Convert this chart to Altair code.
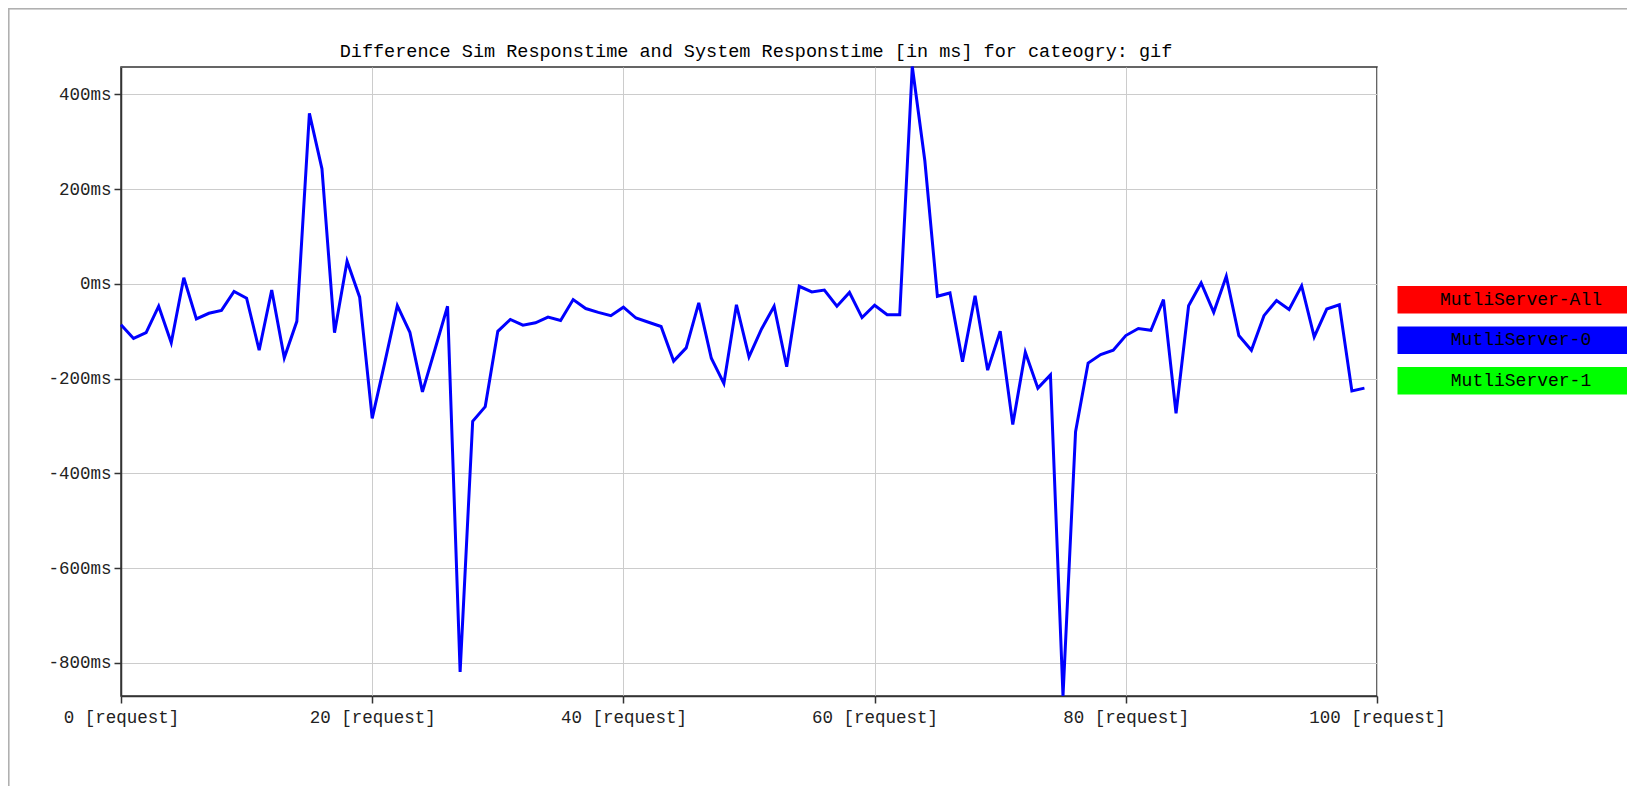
import altair as alt
import pandas as pd

# ---- data ----
requests = list(range(100))
diff_ms = [
    -86, -115, -103, -47, -124, 13, -74, -62, -56, -16,
    -30, -140, -13, -156, -79, 360, 243, -103, 48, -28,
    -284, -166, -46, -102, -228, -138, -47, -819, -290, -259,
    -100, -75, -87, -82, -70, -77, -33, -52, -60, -67,
    -49, -72, -81, -90, -163, -135, -40, -157, -210, -44,
    -154, -95, -47, -175, -5, -17, -13, -47, -18, -71,
    -45, -65, -65, 459, 260, -26, -19, -164, -25, -182,
    -100, -297, -144, -220, -192, -870, -312, -167, -149, -140,
    -109, -94, -98, -33, -273, -46, 2, -60, 16, -109,
    -140, -67, -35, -54, -4, -112, -53, -44, -226, -220,
]
series_names = ["MutliServer-All", "MutliServer-0", "MutliServer-1"]
series_colors = ["#ff0000", "#0000ff", "#00ff00"]
plotted_series = "MutliServer-0"
x_ticks = [0, 20, 40, 60, 80, 100]
y_ticks = [-800, -600, -400, -200, 0, 200, 400]
y_domain = [-870, 458]
x_domain = [0, 100]
title_text = ["Difference Sim Responstime and System Responstime [in ms] for cateogry: gif"]

df = pd.DataFrame({"request": requests, "diff": diff_ms, "series": plotted_series})
legend_df = pd.DataFrame({"series": series_names})
title_df = pd.DataFrame({"title": title_text})

FONT = "Liberation Mono"
W, H = 1256, 629

color_scale = alt.Scale(domain=series_names, range=series_colors)

line = alt.Chart(df).mark_line(strokeWidth=3, strokeJoin="miter").encode(
    x=alt.X("request:Q", scale=alt.Scale(domain=x_domain, nice=False),
            axis=alt.Axis(values=x_ticks, labelExpr="datum.value + ' [request]'",
                          title=None, grid=True, tickSize=7, labelPadding=5,
                          labelFlush=False)),
    y=alt.Y("diff:Q", scale=alt.Scale(domain=y_domain, nice=False, zero=False),
            axis=alt.Axis(values=y_ticks, labelExpr="datum.value + 'ms'",
                          title=None, grid=True, tickSize=7, labelPadding=3)),
    color=alt.Color("series:N", scale=color_scale, legend=None),
)

legend_scale = alt.Scale(domain=series_names, range=[212.5, 334],
                         paddingInner=0.32, paddingOuter=0.16)

legend_rect = alt.Chart(legend_df).mark_rect().encode(
    y=alt.Y("series:N", sort=series_names, scale=legend_scale, axis=None),
    x=alt.value(1276.5), x2=alt.value(1523),
    color=alt.Color("series:N", scale=color_scale, legend=None),
)
legend_text = alt.Chart(legend_df).mark_text(
    font=FONT, fontSize=18, color="#000000", baseline="middle", align="center"
).encode(
    y=alt.Y("series:N", sort=series_names, scale=legend_scale,
            axis=None, bandPosition=0.5),
    x=alt.value(1400),
    text="series:N",
)

title_mark = alt.Chart(title_df).mark_text(
    font=FONT, fontSize=18.5, color="#000000", baseline="alphabetic", align="center"
).encode(x=alt.value(635), y=alt.value(-10), text="title:N")

frame_v = alt.Chart(legend_df).mark_rule(color="#b0b0b0", strokeWidth=1.5).encode(
    x=alt.value(-112.5), y=alt.value(-58.5), y2=alt.value(740))
frame_h = alt.Chart(legend_df).mark_rule(color="#b0b0b0", strokeWidth=1.5).encode(
    x=alt.value(-112.5), x2=alt.value(1520), y=alt.value(-58.5))

chart = alt.layer(line, legend_rect, legend_text, title_mark, frame_v, frame_h).resolve_scale(
    y="independent"
).properties(
    width=W, height=H,
    background="#ffffff",
    autosize=alt.AutoSizeParams(type="none"),
    padding={"left": 113, "top": 59, "right": 250, "bottom": 90},
).configure_view(
    stroke="#333333", strokeWidth=1.5
).configure_axis(
    labelFont=FONT, labelFontSize=17.5, labelColor="#222222",
    gridColor="#cccccc", gridWidth=1, domainColor="#333333", domainWidth=1.5,
    tickColor="#333333", tickWidth=1.5,
)

chart.save("out.html", embed_options={"renderer": "svg", "actions": False})
